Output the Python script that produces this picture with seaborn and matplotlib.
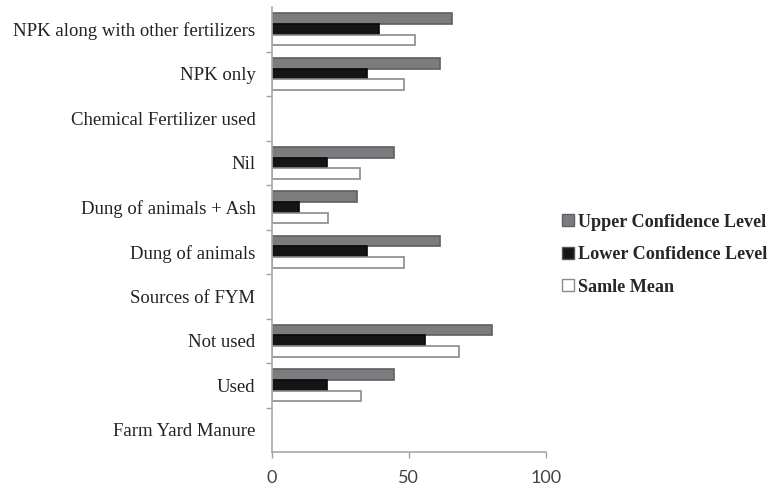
import numpy as np
import pandas as pd
import matplotlib
matplotlib.use("Agg")
import matplotlib.pyplot as plt
from matplotlib.patches import Patch
from matplotlib.ticker import FixedLocator
import seaborn as sns

# Row order, top to bottom (header rows carry no bars)
categories = [
    "NPK along with other fertilizers",
    "NPK only",
    "Chemical Fertilizer used",
    "Nil",
    "Dung of animals + Ash",
    "Dung of animals",
    "Sources of FYM",
    "Not used",
    "Used",
    "Farm Yard Manure",
]

# Rows that have estimates
rows = [
    "NPK along with other fertilizers",
    "NPK only",
    "Nil",
    "Dung of animals + Ash",
    "Dung of animals",
    "Not used",
    "Used",
]
upper = [65.6, 61.3, 44.5, 30.9, 61.3, 80.4, 44.5]
lower = [39.2, 34.8, 20.0, 9.9, 34.8, 55.8, 20.0]
mean = [52.3, 48.2, 32.0, 20.3, 48.2, 68.2, 32.4]

series = ["Upper Confidence Level", "Lower Confidence Level", "Samle Mean"]
x_ticks = [0, 50, 100]

df = pd.concat(
    [
        pd.DataFrame({"category": rows, "series": series[0], "value": upper}),
        pd.DataFrame({"category": rows, "series": series[1], "value": lower}),
        pd.DataFrame({"category": rows, "series": series[2], "value": mean}),
    ],
    ignore_index=True,
)

fill = {series[0]: "#7b7c80", series[1]: "#131516", series[2]: "#ffffff"}
edge = {series[0]: "#5e5f62", series[1]: "#0a0a0a", series[2]: "#8a8a8a"}

sns.set_theme(style="white")
plt.rcParams["font.family"] = ["Liberation Serif", "DejaVu Serif"]

fig = plt.figure(figsize=(7.73, 4.91), dpi=100)
ax = fig.add_axes([0.352, 0.0794, 0.354, 0.906])

sns.barplot(
    data=df, y="category", x="value", hue="series",
    order=categories, hue_order=series, palette=fill,
    orient="h", width=0.72, errorbar=None, ax=ax, legend=False,
)

# Outline each bar in its series edge colour
for container, name in zip(ax.containers, series):
    for bar in container:
        bar.set_edgecolor(edge[name])
        bar.set_linewidth(1.2)

ax.set_xlim(0, 100)
ax.set_ylim(len(categories) - 0.5, -0.5)
ax.set_xticks(x_ticks)
ax.set_xticklabels([str(t) for t in x_ticks], family="Lato", fontsize=13, color="#444444")
ax.set_xlabel("")
ax.set_ylabel("")
ax.set_yticks(range(len(categories)))
ax.set_yticklabels(categories, fontsize=13.5, color="#222222")
ax.yaxis.set_minor_locator(FixedLocator(np.arange(0.5, len(categories) - 1, 1.0)))

ax.tick_params(axis="y", which="major", length=0, pad=12)
ax.tick_params(axis="y", which="minor", length=4, color="#a0a0a0", width=1, left=True)
ax.tick_params(axis="x", which="major", length=4, color="#a0a0a0", width=1,
               direction="out", pad=9, bottom=True)

for side in ["top", "right"]:
    ax.spines[side].set_visible(False)
for side in ["left", "bottom"]:
    ax.spines[side].set_color("#a8a8a8")
    ax.spines[side].set_linewidth(1.2)

handles = [
    Patch(facecolor=fill[s], edgecolor=edge[s] if s != series[1] else "#555555", linewidth=1)
    for s in series
]
fig.legend(
    handles, series, loc="upper left", bbox_to_anchor=(0.706, 0.598),
    frameon=False, handlelength=0.65, handleheight=0.65, handletextpad=0.25,
    labelspacing=0.85, prop={"family": "Liberation Serif", "weight": "bold", "size": 13.1},
)

fig.savefig("out.png", dpi=100)
